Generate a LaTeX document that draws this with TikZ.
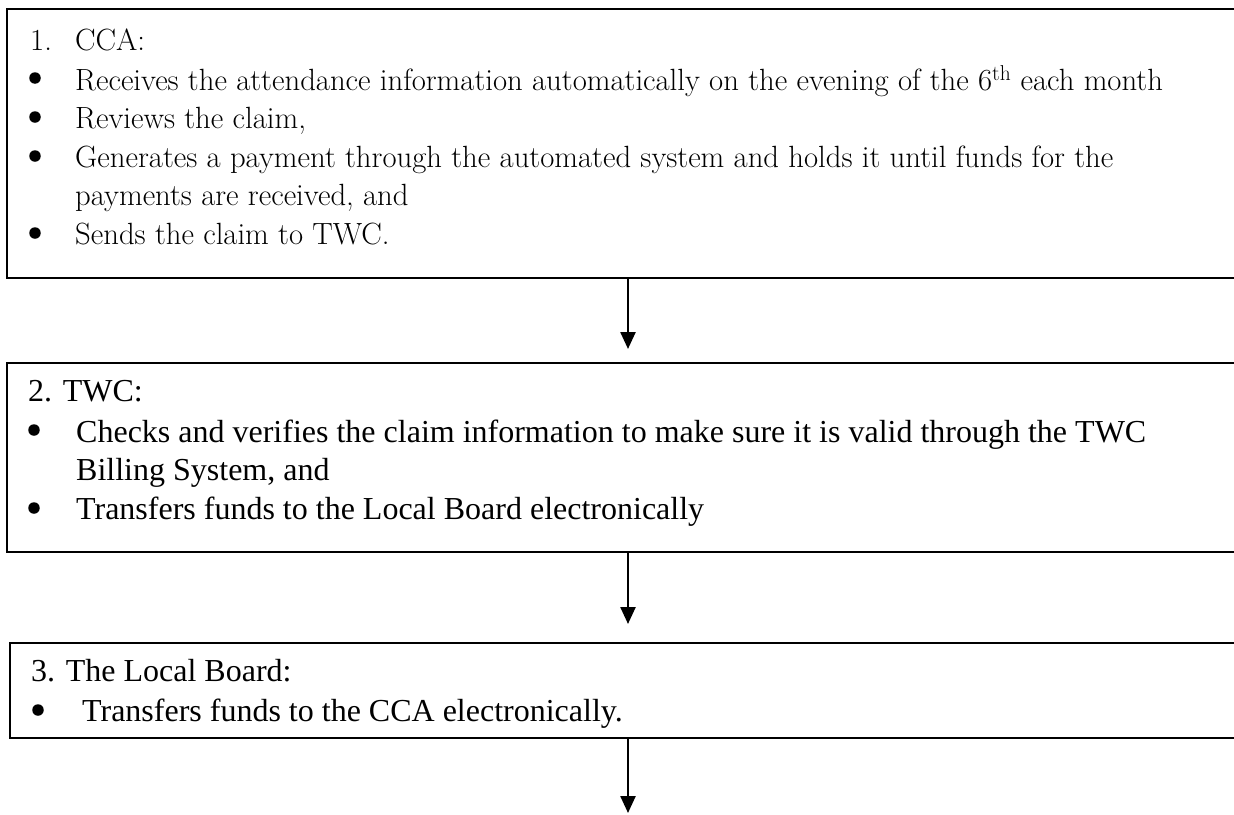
\documentclass[tikz,border=0pt]{standalone}
\usepackage{fontspec}
\newfontfamily\tnr{Liberation Serif}
\usetikzlibrary{arrows.meta}
\begin{document}
\begin{tikzpicture}[x=1pt,y=-1pt,
  box/.style={draw,line width=2.6pt,inner sep=0pt,outer sep=0pt,anchor=north west,minimum width=1240pt},
  txa/.style={anchor=base west,inner sep=0pt,font=\fontsize{30.7}{36}\selectfont},
  txb/.style={anchor=base west,inner sep=0pt,font=\tnr\fontsize{32}{36}\selectfont},
  dot/.style={circle,fill=black,inner sep=0pt,minimum size=11.5pt},
  flow/.style={line width=2.4pt,-{Triangle[width=15pt,length=17pt]}}]
\useasboundingbox (0,0) rectangle (1234,814);
\clip (0,0) rectangle (1234,814);
% boxes
\node[box,minimum height=269pt] (b1) at (7,9) {};
\node[box,minimum height=189pt] (b2) at (7,363) {};
\node[box,minimum height=95pt]  (b3) at (10,643) {};
% box 1 text
\node[txa] (n1) at (30,50) {1.};
\node[txa] (h1) at (75,50) {CCA:};
\node[dot] (d11) at (35,78) {};
\node[txa] (l11) at (75,90) {Receives the attendance information automatically on the evening of the 6\textsuperscript{th} each month};
\node[dot] (d12) at (35,117) {};
\node[txa] (l12) at (75,128) {Reviews the claim,};
\node[dot] (d13) at (35,156) {};
\node[txa] (l13) at (75,167) {Generates a payment through the automated system and holds it until funds for the};
\node[txa] (l14) at (75,205) {payments are received, and};
\node[dot] (d14) at (35,233) {};
\node[txa] (l15) at (75,244) {Sends the claim to TWC.};
% box 2 text
\node[txb] (h2) at (28,401) {2. TWC:};
\node[dot] (d21) at (34,430) {};
\node[txb] (l21) at (76,442) {Checks and verifies the claim information to make sure it is valid through the TWC};
\node[txb] (l22) at (76,480) {Billing System, and};
\node[dot] (d22) at (34,508) {};
\node[txb] (l23) at (76,519) {Transfers funds to the Local Board electronically};
% box 3 text
\node[txb] (h3) at (31,681) {3. The Local Board:};
\node[dot] (d31) at (38,710) {};
\node[txb] (l31) at (82,721) {Transfers funds to the CCA electronically.};
% connectors
\coordinate (ax) at (628,0);
\coordinate (endp) at (628,813);
\draw[flow,shorten >=14pt] (b1.south -| ax) -- (b2.north -| ax);
\draw[flow,shorten >=19pt] (b2.south -| ax) -- (b3.north -| ax);
\draw[flow] (b3.south -| ax) -- (endp);
\end{tikzpicture}
\end{document}
